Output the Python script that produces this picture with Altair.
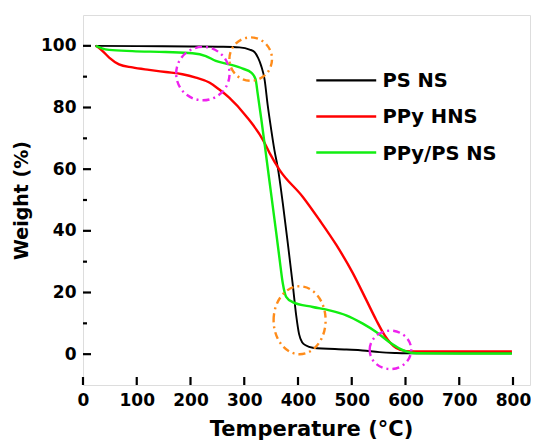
import altair as alt
import pandas as pd

# ---- data ----
series_names = ["PS NS", "PPy HNS", "PPy/PS NS"]
series_colors = ["#000000", "#FF0000", "#11EE11"]
series_widths = [1.9, 2.4, 2.4]

ps_T = [23, 100, 200, 260, 291, 310, 319, 326, 331.5, 337.7, 343.8, 350, 356.3, 362.4,
        371.7, 381, 390.3, 396.7, 402, 408, 415, 427.5, 490, 520, 551.6, 580, 601, 700, 798]
ps_W = [100, 99.9, 99.8, 99.7, 99.5, 98.8, 98.0, 96, 93.5, 89.2, 80.5, 73, 66, 60.5,
        49, 36, 22.5, 12.5, 6.5, 3.8, 2.8, 2.1, 1.5, 1.2, 0.65, 0.4, 0.3, 0.3, 0.3]

ppy_T = [23.9, 30, 36, 48.7, 67, 92, 123, 154, 185, 210, 235, 253, 272, 303.6, 334.5, 347,
         365.6, 409, 440, 471, 502, 527, 545.5, 561, 582.7, 601, 620, 700, 798]
ppy_W = [100, 99.3, 98.4, 96.2, 94, 93, 92.2, 91.5, 90.8, 89.7, 88.1, 85.9, 83.2, 77.2, 69.6, 65.3,
         59.8, 51, 43.5, 35.5, 26.3, 17.6, 11.1, 6.2, 2.0, 1.0, 0.9, 0.9, 0.9]

mix_T = [23.9, 35, 48.7, 92, 154, 203.7, 228.5, 247, 272, 297.3, 313, 321, 325, 331.5, 339.5,
         347, 353, 359.4, 365.6, 371.7, 378, 390, 427.5, 458.6, 489.7, 520.6, 545.5, 570, 589,
         601, 620, 700, 798]
mix_W = [100, 99.2, 98.7, 98.3, 98, 97.6, 96.7, 95.1, 94, 92.6, 91.3, 89.2, 84.5, 76.5, 66,
         56, 48, 39.5, 31, 23, 18.6, 16.9, 15.3, 14.2, 12.6, 9.9, 7.2, 3.9, 1.8,
         0.9, 0.3, 0.2, 0.2]

x_ticks = [0, 100, 200, 300, 400, 500, 600, 700, 800]
y_ticks = [0, 20, 40, 60, 80, 100]
y_minor = [10, 30, 50, 70, 90]

# annotation ellipses: centre (data units), radii (px), colour
ell_T = [223, 312, 403, 572]
ell_W = [91, 95.7, 11, 1.4]
ell_rx = [26.7, 21.3, 26, 20.8]
ell_ry = [26.7, 21.7, 34, 19.2]
ell_col = ["#EE22EE", "#FF8C1A", "#FF8C1A", "#EE22EE"]

FONT = "DejaVu Sans"
PLOT_W, PLOT_H = 447, 370
xscale = alt.Scale(domain=[0, PLOT_W / 0.5375], nice=False, zero=False)
yscale = alt.Scale(domain=[-10, 110], nice=False, zero=False)

layers = []
all_series = [(ps_T, ps_W), (ppy_T, ppy_W), (mix_T, mix_W)]
for k, (name, (ts, ws)) in enumerate(zip(series_names, all_series)):
    d = pd.DataFrame({"T": ts, "W": ws, "series": name})
    enc = dict(
        x=alt.X("T:Q", scale=xscale),
        y=alt.Y("W:Q", scale=yscale),
    )
    if k == 0:
        enc["x"] = alt.X("T:Q", scale=xscale, axis=alt.Axis(
            values=x_ticks, title="Temperature (°C)", ticks=False, domain=False, grid=False,
            labelFont=FONT, labelFontWeight="bold", labelFontSize=17, labelColor="black",
            labelPadding=7, titleFont=FONT, titleFontWeight="bold", titleFontSize=21,
            titleColor="black", titlePadding=10, labelFlush=False, titleX=228))
        enc["y"] = alt.Y("W:Q", scale=yscale, axis=alt.Axis(
            values=y_ticks, title="Weight (%)", ticks=False, domain=False, grid=False,
            labelFont=FONT, labelFontWeight="bold", labelFontSize=17, labelColor="black",
            labelPadding=7, titleFont=FONT, titleFontWeight="bold", titleFontSize=19,
            titleColor="black", titlePadding=9, labelFlush=False))
    layers.append(alt.Chart(d).mark_line(
        color=series_colors[k], strokeWidth=series_widths[k], interpolate="monotone"
    ).encode(**enc))

# inside ticks
xt = pd.DataFrame({"T": x_ticks})
layers.append(alt.Chart(xt).mark_rule(color="black", strokeWidth=2.2).encode(
    x="T:Q", y=alt.value(PLOT_H), y2=alt.value(PLOT_H - 8)))
yt = pd.DataFrame({"W": y_ticks})
layers.append(alt.Chart(yt).mark_rule(color="black", strokeWidth=2.2).encode(
    y="W:Q", x=alt.value(0), x2=alt.value(8)))
ym = pd.DataFrame({"W": y_minor})
layers.append(alt.Chart(ym).mark_rule(color="black", strokeWidth=2.2).encode(
    y="W:Q", x=alt.value(0), x2=alt.value(4)))

# dash-dot ellipses
paths, sizes = [], []
for rx, ry in zip(ell_rx, ell_ry):
    R = max(rx, ry)
    a, b = rx / R, ry / R
    paths.append(f"M {-a:.3f} 0 A {a:.3f} {b:.3f} 0 1 1 {a:.3f} 0 A {a:.3f} {b:.3f} 0 1 1 {-a:.3f} 0 Z")
    sizes.append((2 * R) ** 2)
ell_ids = [f"e{i}" for i in range(len(ell_T))]
ed = pd.DataFrame({"T": ell_T, "W": ell_W, "id": ell_ids, "sz": sizes, "col": ell_col})
layers.append(alt.Chart(ed).mark_point(
    filled=False, strokeWidth=2.4, strokeDash=[7, 4, 2, 4], opacity=1
).encode(
    x="T:Q", y="W:Q",
    shape=alt.Shape("id:N", scale=alt.Scale(domain=ell_ids, range=paths), legend=None),
    size=alt.Size("sz:Q", scale=None),
    stroke=alt.Stroke("col:N", scale=None),
))

# manual legend
leg_top, leg_step = 88.8, 11.7
ld = pd.DataFrame({
    "series": series_names,
    "T": [434] * 3,
    "T2": [545.5] * 3,
    "TL": [557] * 3,
    "W": [leg_top - leg_step * i for i in range(3)],
    "col": series_colors,
})
layers.append(alt.Chart(ld).mark_rule(strokeWidth=2.4).encode(
    x="T:Q", x2="T2:Q", y="W:Q", stroke=alt.Stroke("col:N", scale=None)))
layers.append(alt.Chart(ld).mark_text(
    align="left", baseline="middle", font=FONT, fontWeight="bold", fontSize=19.5,
    color="black", dy=1
).encode(x="TL:Q", y="W:Q", text="series:N"))

chart = alt.layer(*layers).properties(
    width=PLOT_W, height=PLOT_H,
    autosize=alt.AutoSizeParams(type="none"),
    padding={"left": 75, "top": 7, "right": 1, "bottom": 58},
).configure_view(stroke="black", strokeWidth=2.5).configure(background="white")

chart.save("out.html", embed_options={"renderer": "svg", "actions": False})
